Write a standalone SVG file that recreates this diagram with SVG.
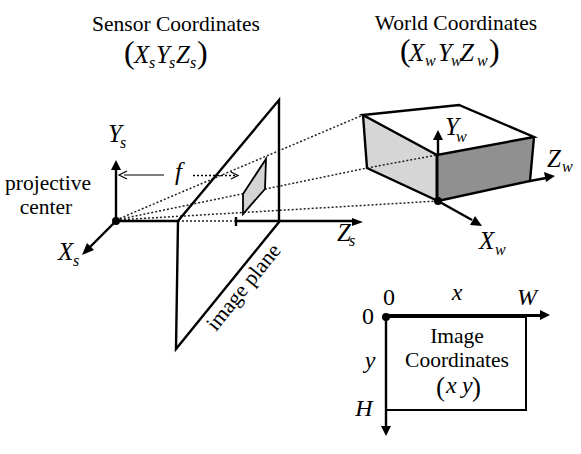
<svg xmlns="http://www.w3.org/2000/svg" width="581" height="454" viewBox="0 0 581 454">
<style>
text{font-family:"Liberation Serif","Times New Roman",serif;fill:#000;font-size:21.5px}
.i{font-style:italic;font-size:25px}
.n{font-size:24px}
.sub{font-style:italic;font-size:16px}
.p{font-size:32px}
.q{font-size:27px}
.m{text-anchor:middle}
.l{fill:none;stroke:#000;stroke-width:2.400}
.d{fill:none;stroke:#222;stroke-width:1.500;stroke-dasharray:2 2}
.a{fill:#000;stroke:none}
</style>
<rect width="581" height="454" fill="#fff"/>
<g id="connectors">
<path class="d" d="M116 220L363 115M116 220L367 168M116 220L438 201M178 221H236"/>
<path class="l" d="M116 221V170"/><path class="a" d="M116 160L121 170H111Z"/>
<path class="l" d="M116 221L89 248"/><path class="a" d="M82 255L87 243L94 250Z"/>
<path class="l" d="M116 221H178M236 221H352M236 217V226"/><path class="a" d="M363 222L352 218V226Z"/>
<path d="M164 175H124" fill="none" stroke="#000" stroke-width="1.200"/><path d="M127 171L119 175L127 179" fill="none" stroke="#000" stroke-width="1.200"/>
<path d="M193 175.500H237" fill="none" stroke="#000" stroke-width="1.500" stroke-dasharray="2 2"/><path d="M231 172L238 175.500L231 179" fill="none" stroke="#000" stroke-width="1.200"/>
</g>
<g id="image-plane">
<path class="l" d="M178 221L279 100V222L176 349Z"/>
<path d="M266 159L265 189L243 214V194Z" fill="#d4d4d4" stroke="#000" stroke-width="1.800"/>
<text transform="translate(216 332) rotate(-51)">image plane</text>
</g>
<g id="world-box">
<path d="M363 115L437 155V201L367 168Z" fill="#d6d6d6"/>
<path d="M437 155L534 137L530 181L438 201Z" fill="#909090"/>
<path class="l" d="M363 115L459 105L534 137L437 155ZM363 115L367 168L438 201L530 181L534 137"/>
<path d="M437 155V201" stroke="#000" stroke-width="3"/>
<path class="d" d="M367 168L437 155"/>
<path class="l" d="M438 155V140"/><path class="a" d="M438 130L443 140H433Z"/>
<path class="l" d="M530 181L546 178"/><path class="a" d="M555 176L544 172L546 182Z"/>
<path class="l" d="M438 201L472 220"/><path class="a" d="M482 226L470 225L475 216Z"/>
<circle cx="438" cy="201" r="4"/>
</g>
<g id="projective-center"><circle cx="116" cy="221" r="4"/>
<text x="48" y="190" class="m">projective</text><text x="46" y="214" class="m">center</text></g>
<g id="image-coords">
<rect x="386" y="317" width="140" height="93" fill="none" stroke="#000" stroke-width="2"/>
<path d="M386 315.500H541" stroke="#000" stroke-width="3.200"/><path class="a" d="M550 315L540 310V320Z"/>
<path d="M386 317V426" stroke="#000" stroke-width="2.400"/><path class="a" d="M386 436L381 426H391Z"/>
<circle cx="386" cy="317" r="4"/>
<text x="389" y="305" class="m n">0</text>
<text x="368" y="324" class="m n">0</text>
<text x="457" y="300" class="i m n">x</text>
<text x="527" y="305" class="i m n">W</text>
<text x="370" y="368" class="i m n">y</text>
<text x="364" y="416" class="i m n">H</text>
<text x="457" y="343" class="m">Image</text>
<text x="457" y="367" class="m">Coordinates</text>
<text x="436" y="396" class="q">(</text>
<text x="446" y="393" class="i n">x</text>
<text x="462" y="393" class="i n">y</text>
<text x="472" y="396" class="q">)</text>
</g>
<g id="labels">
<text x="176" y="31" class="m">Sensor Coordinates</text>
<text x="124" y="63" class="p">(</text><text x="134" y="63" class="i">X</text><text x="149" y="68" class="sub">s</text><text x="156" y="63" class="i">Y</text><text x="169" y="68" class="sub">s</text><text x="176" y="63" class="i">Z</text><text x="190" y="68" class="sub">s</text><text x="197" y="63" class="p">)</text>
<text x="456" y="30" class="m">World Coordinates</text>
<text x="400" y="61" class="p">(</text><text x="409" y="61" class="i">X</text><text x="425" y="66" class="sub">w</text><text x="438" y="61" class="i">Y</text><text x="451" y="66" class="sub">w</text><text x="460" y="61" class="i">Z</text><text x="477" y="66" class="sub">w</text><text x="489" y="61" class="p">)</text>
<text x="108" y="142" class="i">Y</text><text x="120" y="148" class="sub">s</text>
<text x="175" y="180" class="i">f</text>
<text x="58" y="260" class="i">X</text><text x="73" y="266" class="sub">s</text>
<text x="337" y="241" class="i">Z</text><text x="349" y="246" class="sub">s</text>
<text x="445" y="135" class="i">Y</text><text x="456" y="142" class="sub">w</text>
<text x="547" y="167" class="i">Z</text><text x="562" y="172" class="sub">w</text>
<text x="479" y="249" class="i">X</text><text x="495" y="255" class="sub">w</text>
</g>
</svg>
